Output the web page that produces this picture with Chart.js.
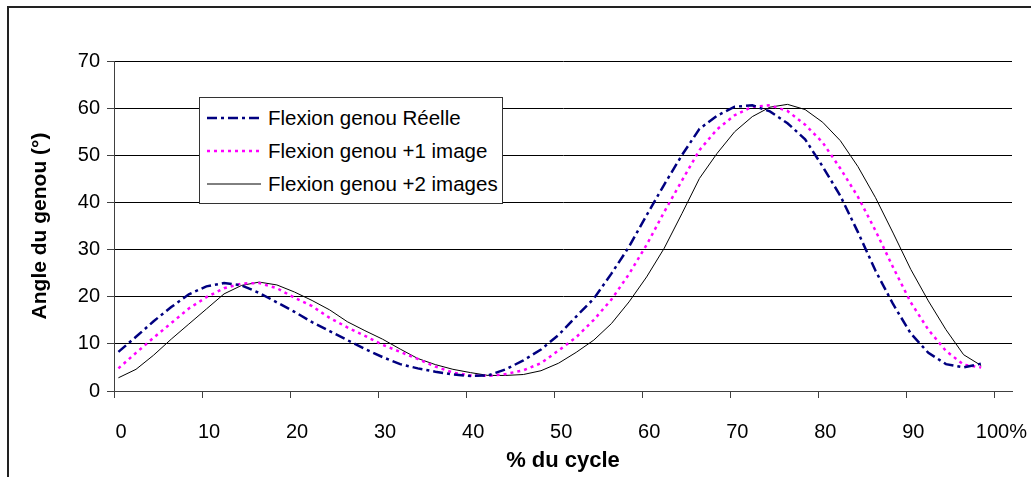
<!DOCTYPE html>
<html>
<head>
<meta charset="utf-8">
<script src="https://cdn.jsdelivr.net/npm/chart.js@4.4.1/dist/chart.umd.min.js"></script>
<style>
  html, body { margin:0; padding:0; background:#fff; }
  #wrap { position:relative; width:1031px; height:477px; overflow:hidden; }
  #frame { position:absolute; left:7px; top:6px; width:1100px; height:600px; border-left:2px solid #222; border-top:2px solid #222; pointer-events:none; }
  #legend { position:absolute; left:199px; top:97px; width:302px; height:102px; border:1.5px solid #333; background:#fff;
            font-family:"Liberation Sans", Arial, sans-serif; font-size:20.5px; color:#000; padding-top:3px; box-sizing:content-box; }
  #legend .row { height:33px; display:flex; align-items:center; }
  #legend svg { margin-left:7px; margin-right:7px; }
</style>
</head>
<body>
<div id="wrap">
  <canvas id="myChart" width="1031" height="477"></canvas>
  <div id="frame"></div>
  <div id="legend"></div>
</div>
<script>
// % du cycle (category index)
var cycle = [0,2,4,6,8,10,12,14,16,18,20,22,24,26,28,30,32,34,36,38,40,42,44,46,48,
             50,52,54,56,58,60,62,64,66,68,70,72,74,76,78,80,82,84,86,88,90,92,94,96,98];
var reelle = [8.3,11.5,14.8,17.8,20.5,22.2,22.9,22.4,20.8,18.8,16.8,14.6,12.7,10.8,8.9,7.2,5.7,4.8,4.1,3.5,3.2,3.3,4.6,6.5,8.8,
              11.9,15.8,19.6,24.9,30.6,37.3,43.8,50.0,55.6,58.4,60.3,60.6,59.3,56.8,53.4,47.6,41.4,33.7,25.5,18.4,12.2,8.1,5.7,5.0,5.8];
var plus1 = [4.8,8.1,11.3,14.4,17.5,19.9,21.8,22.8,22.9,21.8,19.8,18.0,15.5,13.5,11.7,9.8,8.3,6.8,5.2,3.9,3.3,3.2,3.6,4.4,5.9,
             8.6,11.4,15.1,19.4,24.8,31.0,38.0,44.6,51.1,55.5,58.5,60.3,60.6,59.4,56.5,52.7,47.2,41.2,34.0,26.2,18.8,13.0,8.5,5.6,5.0];
var plus2 = [2.8,4.6,7.6,11.0,14.2,17.4,20.6,22.4,23.1,22.5,21.0,19.2,17.2,14.7,12.8,11.0,8.9,6.9,5.6,4.6,3.9,3.3,3.3,3.5,4.3,
             5.9,8.2,10.8,14.3,18.9,24.2,30.3,37.6,45.1,50.4,55.0,58.2,60.2,60.8,59.7,57.0,53.1,47.6,41.0,33.5,25.8,19.1,13.0,7.7,5.4];
var xLabels = ['0','10','20','30','40','50','60','70','80','90','100%'];
var seriesNames = ['Flexion genou Réelle','Flexion genou +1 image','Flexion genou +2 images'];

var fontFam = '"Liberation Sans", Arial, sans-serif';

function pts(arr){
  return cycle.map(function(c,i){ return {x:c, y:arr[i]}; });
}

var config = {
  type:'line',
  data:{
    datasets:[
      { label:seriesNames[0], data:pts(reelle), borderColor:'#000080', borderWidth:2.5, borderDash:[10,4,3,4], pointRadius:0, tension:0, fill:false },
      { label:seriesNames[1], data:pts(plus1), borderColor:'#FF00FF', borderWidth:2.5, borderDash:[3,4], pointRadius:0, tension:0, fill:false },
      { label:seriesNames[2], data:pts(plus2), borderColor:'#000000', borderWidth:1, pointRadius:0, tension:0, fill:false }
    ]
  },
  options:{
    responsive:false,
    animation:false,
    layout:{ padding:{ left:0, top:61, right:19, bottom:0 } },
    plugins:{ legend:{ display:false }, tooltip:{ enabled:false } },
    scales:{
      x:{
        type:'linear', min:-0.5, max:101.5,
        afterBuildTicks:function(scale){
          scale.ticks = xLabels.map(function(l,i){ return {value:i*10-0.5}; });
        },
        afterFit:function(scale){ scale.height = 86; scale.paddingLeft = 0; scale.paddingRight = 0; },
        ticks:{
          autoSkip:false, maxRotation:0, labelOffset:7, padding:22,
          color:'#000', font:{ family:fontFam, size:20 },
          callback:function(v){ return xLabels[Math.round((v+0.5)/10)]; }
        },
        grid:{ drawOnChartArea:false, drawTicks:true, tickLength:7, color:'#404040' },
        border:{ display:true, color:'#404040', width:1 },
        title:{ display:true, text:'% du cycle', color:'#000', font:{ family:fontFam, size:22, weight:'bold' }, padding:{ top:0, bottom:3 } }
      },
      y:{
        min:0, max:70,
        afterFit:function(scale){ scale.width = 114; scale.paddingTop = 0; scale.paddingBottom = 0; },
        ticks:{ stepSize:10, padding:7, color:'#000', font:{ family:fontFam, size:20 } },
        grid:{ color:'#000', lineWidth:1, drawTicks:true, tickLength:7, tickColor:'#404040' },
        border:{ display:true, color:'#404040', width:1 },
        title:{ display:true, text:'Angle du genou (°)', color:'#000', font:{ family:fontFam, size:21, weight:'bold' }, padding:{ top:28, bottom:0 } }
      }
    }
  }
};

var chartInstance = new Chart(document.getElementById('myChart'), config);

// legend box, built from the datasets
var legendBox = document.getElementById('legend');
config.data.datasets.forEach(function(ds){
  var row = document.createElement('div');
  row.className = 'row';
  var dash = ds.borderDash ? ds.borderDash.join(',') : 'none';
  row.innerHTML = '<svg width="54" height="10"><line x1="0" y1="5" x2="54" y2="5" stroke="' + ds.borderColor +
    '" stroke-width="' + ds.borderWidth + '" stroke-dasharray="' + dash + '"/></svg><span>' + ds.label + '</span>';
  legendBox.appendChild(row);
});
</script>
</body>
</html>
